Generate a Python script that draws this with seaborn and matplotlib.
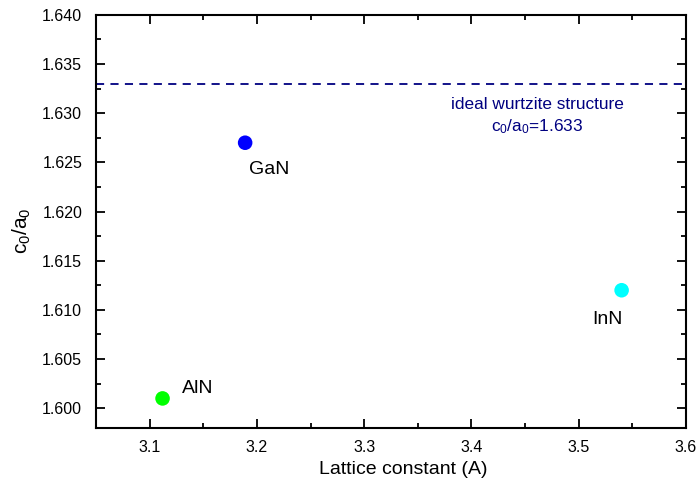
import matplotlib
matplotlib.use("Agg")
import matplotlib.pyplot as plt
import seaborn as sns
import pandas as pd
from matplotlib.ticker import MultipleLocator, FormatStrFormatter

materials = ["GaN", "InN", "AlN"]
lattice_a = [3.189, 3.540, 3.112]
c_over_a = [1.627, 1.612, 1.601]
colors = ["#0000FF", "#00FFFF", "#00FF00"]
ideal_ratio = 1.633
x_ticks = [3.1, 3.2, 3.3, 3.4, 3.5, 3.6]
x_tick_labels = ["3.1", "3.2", "3.3", "3.4", "3.5", "3.6"]

sns.set_style("ticks")
plt.rcParams["font.family"] = ["Liberation Sans", "DejaVu Sans"]
plt.rcParams["mathtext.default"] = "regular"
plt.rcParams["text.color"] = "black"
plt.rcParams["axes.labelcolor"] = "black"

df = pd.DataFrame({"material": materials, "a": lattice_a, "ca": c_over_a})

fig = plt.figure(figsize=(6.96, 4.93), dpi=100)
ax = fig.add_axes([0.138, 0.132, 0.8476, 0.8378])

sns.scatterplot(data=df, x="a", y="ca", hue="material", palette=dict(zip(materials, colors)),
                s=110, edgecolor="none", legend=False, ax=ax, zorder=3)

ax.axhline(ideal_ratio, color="#000080", linestyle=(0, (4.5, 3.5)), linewidth=1.3)
ax.text(3.4612, 1.6304, "ideal wurtzite structure", color="#000080", fontsize=12.4,
        ha="center", va="baseline")
ax.text(3.4612, 1.6282, "c$_0$/a$_0$=1.633", color="#000080", fontsize=12.4,
        ha="center", va="baseline")

label_pos = {"GaN": (3.1925, 1.6238), "InN": (3.5125, 1.60855), "AlN": (3.130, 1.6016)}
for m in materials:
    lx, ly = label_pos[m]
    ax.text(lx, ly, m, fontsize=14, ha="left", va="baseline", color="black")

ax.set_xlim(3.05, 3.6)
ax.set_ylim(1.598, 1.640)
ax.set_xticks(x_ticks)
ax.set_xticklabels(x_tick_labels)
ax.xaxis.set_minor_locator(MultipleLocator(0.05))
ax.yaxis.set_major_locator(MultipleLocator(0.005))
ax.yaxis.set_minor_locator(MultipleLocator(0.0025))
ax.yaxis.set_major_formatter(FormatStrFormatter("%.3f"))

for sp in ax.spines.values():
    sp.set_visible(True)
    sp.set_linewidth(1.5)
    sp.set_color("black")
ax.tick_params(which="both", direction="in", top=True, right=True, labelsize=11.5,
               width=1.3, colors="black", labelcolor="black")
ax.tick_params(which="major", length=6.5)
ax.tick_params(axis="x", which="major", pad=9)
ax.tick_params(axis="y", which="major", pad=10)
ax.tick_params(which="minor", length=3.5)

ax.set_xlabel("Lattice constant (A)", fontsize=14)
ax.set_ylabel("c$_0$/a$_0$", fontsize=15)
ax.xaxis.set_label_coords(0.521, -0.08)
ax.yaxis.set_label_coords(-0.107, 0.477)

fig.savefig("out.png", dpi=100)
